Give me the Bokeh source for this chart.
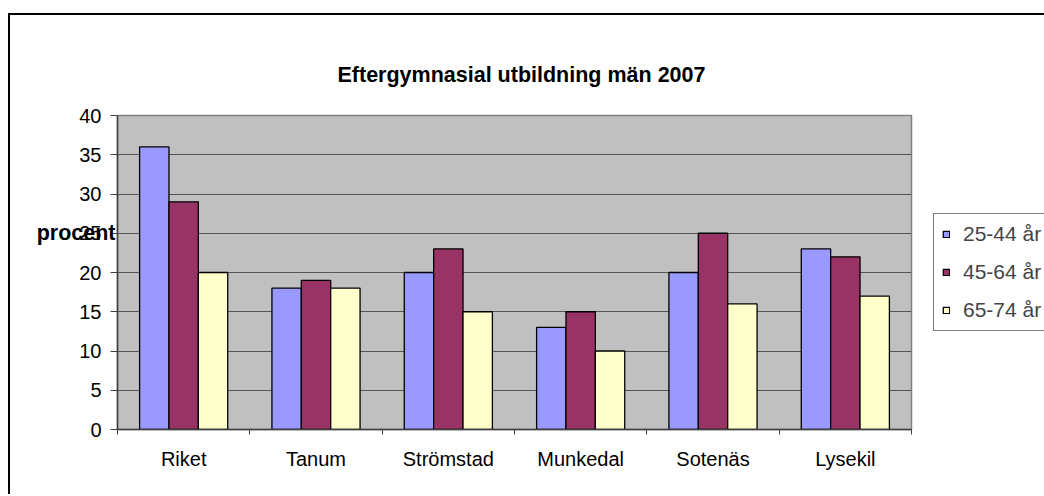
from bokeh.plotting import figure
from bokeh.models import ColumnDataSource, FixedTicker, Legend, LegendItem, Range1d, LinearAxis
from bokeh.layouts import column
from bokeh.transform import dodge
from bokeh.embed import file_html
from bokeh.resources import INLINE

categories = ["Riket", "Tanum", "Strömstad", "Munkedal", "Sotenäs", "Lysekil"]
series_names = ["25-44 år", "45-64 år", "65-74 år"]
v_25_44 = [36, 18, 20, 13, 20, 23]
v_45_64 = [29, 19, 23, 15, 25, 22]
v_65_74 = [20, 18, 15, 10, 16, 17]
y_ticks = [0, 5, 10, 15, 20, 25, 30, 35, 40]
title_text = "Eftergymnasial utbildning män 2007"
y_label_text = "procent"
y_label_at = 25

FONT = "Liberation Sans"
colors = ["#9999FF", "#993366", "#FFFFCC"]

xc = [i + 0.5 for i in range(len(categories))]
source = ColumnDataSource(dict(x=xc, a=v_25_44, b=v_45_64, c=v_65_74))

p = figure(frame_width=794, frame_height=314,
           x_range=Range1d(0, len(categories)), y_range=Range1d(0, 40),
           output_backend="svg", toolbar_location=None,
           min_border_left=107, min_border_right=131,
           min_border_top=100, min_border_bottom=65,
           background_fill_color="#C0C0C0", border_fill_color="white",
           outline_line_color="#808080", outline_line_width=1.5)

p.title.text = title_text
p.title.align = "left"
p.title.offset = 220
p.title.standoff = 57
p.title.text_font = FONT
p.title.text_font_size = "21.5px"
p.title.text_font_style = "bold"
p.title.text_color = "black"

bw = 0.222
renderers = []
for field, off, col in zip(["a", "b", "c"], [-bw, 0, bw], colors):
    r = p.vbar(x=dodge("x", off), top=field, width=bw, source=source,
               fill_color=col, line_color="black", line_width=1.3)
    renderers.append(r)

legend = Legend(items=[LegendItem(label=n, renderers=[r]) for n, r in zip(series_names, renderers)],
                location="left", margin=22, padding=8, spacing=14,
                glyph_width=8, glyph_height=8, label_height=24, label_standoff=13,
                label_text_font=FONT, label_text_font_size="21px",
                border_line_color="black", border_line_width=1,
                background_fill_color="white", background_fill_alpha=1)
p.add_layout(legend, "right")

# x axis
p.xaxis.ticker = FixedTicker(ticks=xc, minor_ticks=list(range(len(categories) + 1)))
p.xaxis.major_label_overrides = {x: c for x, c in zip(xc, categories)}
p.xaxis.major_tick_out = 0
p.xaxis.major_tick_in = 0
p.xaxis.minor_tick_out = 5
p.xaxis.minor_tick_in = 0
p.xaxis.minor_tick_line_color = "#404040"
p.xaxis.major_label_standoff = 13
# y axis
p.yaxis.ticker = FixedTicker(ticks=y_ticks)
p.yaxis.major_tick_out = 7
p.yaxis.major_tick_in = 0
p.yaxis.minor_tick_out = 0
p.yaxis.minor_tick_in = 0
p.yaxis.major_label_standoff = 9
for ax in (p.xaxis, p.yaxis):
    ax.axis_line_color = "#404040"
    ax.axis_line_width = 1.5
    ax.major_tick_line_color = "#404040"
    ax.major_label_text_font = FONT
    ax.major_label_text_font_size = "20px"
    ax.major_label_text_color = "black"

p.xgrid.visible = False
p.ygrid.grid_line_color = "#555555"
p.ygrid.grid_line_width = 1.2

# horizontal "procent" label, drawn by a second left axis that carries one labelled tick
lab_axis = LinearAxis(ticker=FixedTicker(ticks=[y_label_at]),
                      major_label_overrides={y_label_at: y_label_text},
                      axis_line_color=None, major_tick_line_color=None,
                      minor_tick_line_color=None,
                      major_tick_out=0, major_tick_in=0, minor_tick_out=0, minor_tick_in=0,
                      major_label_standoff=-39,
                      major_label_text_font=FONT, major_label_text_font_size="21.5px",
                      major_label_text_font_style="bold", major_label_text_color="black")
p.add_layout(lab_axis, "left")

page = column(p, styles={"margin-top": "13px", "margin-left": "8px",
                         "border-left": "2px solid black",
                         "border-top": "2px solid black"})

open("out.html", "w").write(file_html(page, INLINE))
